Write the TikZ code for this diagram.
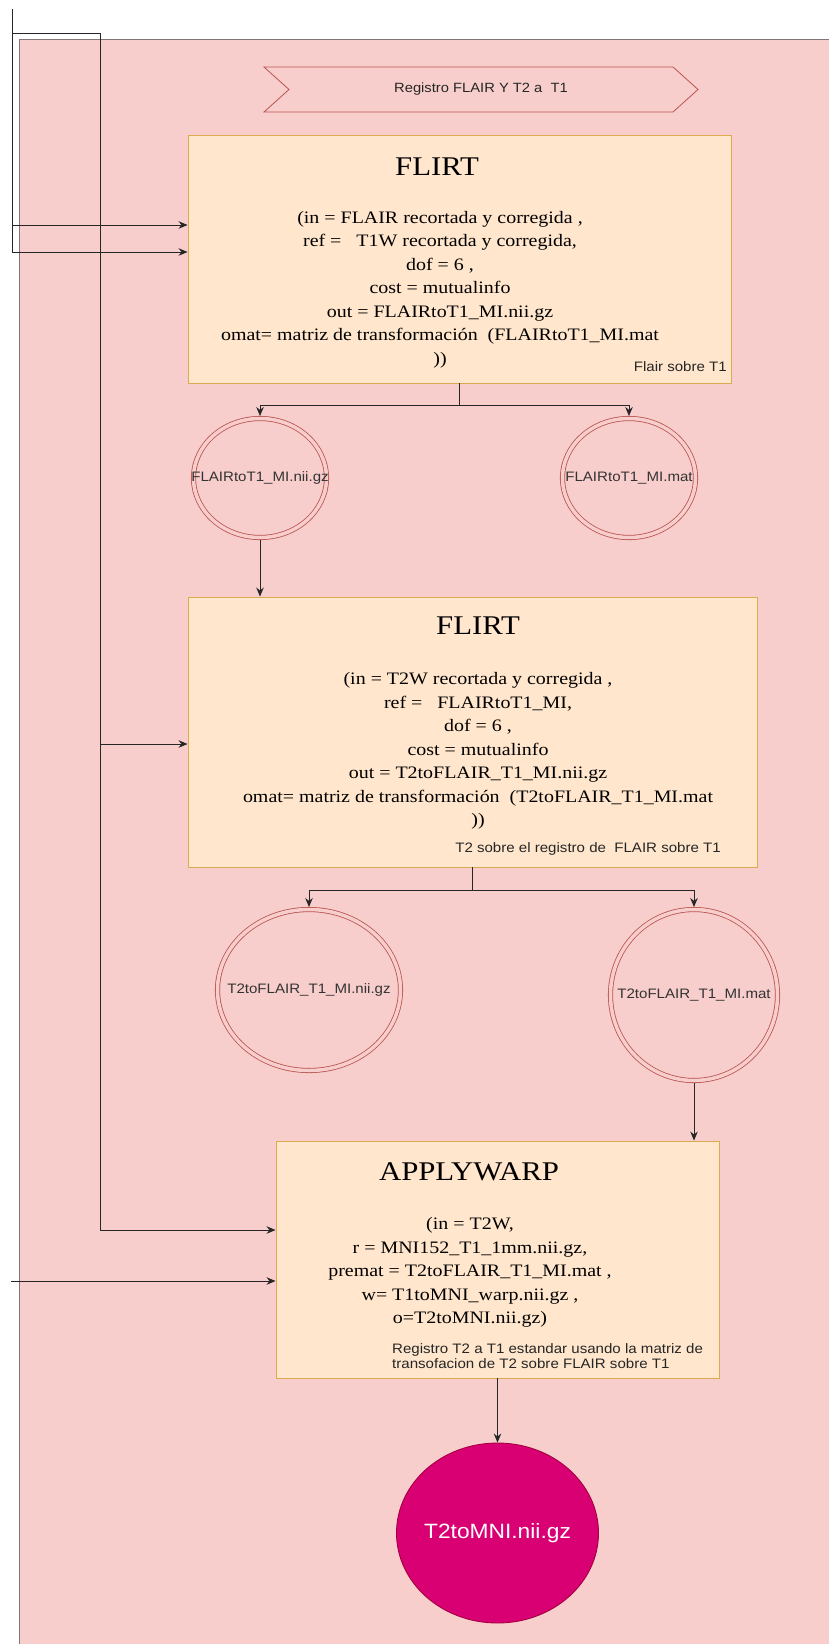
\documentclass[tikz,border=0pt]{standalone}
\usepackage{fontspec}
\setmainfont{Liberation Serif}[FakeStretch=1.14]
\setsansfont{Liberation Sans}[FakeStretch=1.1]
\usepackage{xcolor}
\usepackage{tikz}
\usetikzlibrary{positioning, shapes.geometric, shapes.symbols, arrows.meta}

\definecolor{lanefill}{HTML}{F8CECC}
\definecolor{laneline}{HTML}{B85450}
\definecolor{laneedge}{HTML}{857575}
\definecolor{boxfill}{HTML}{FFE6CC}
\definecolor{boxline}{HTML}{DDAA50}
\definecolor{magfill}{HTML}{D80073}
\definecolor{magline}{HTML}{A50040}

\begin{document}
\begin{tikzpicture}[x=1pt, y=-1pt, >={Stealth[length=9pt, width=7.5pt]},
        proc/.style={rectangle, draw=boxline, fill=boxfill, line width=0.9pt, inner sep=0pt},
        title/.style={font=\fontsize{27}{30}\selectfont, inner sep=0pt},
        body/.style={align=center, font=\fontsize{17.5}{23.5}\selectfont, inner sep=0pt},
        note/.style={align=left, font=\sffamily\fontsize{13.7}{15}\selectfont, inner sep=0pt, text=black!85},
        outfile/.style={ellipse, draw=laneline, line width=0.8pt, double=lanefill, double distance=3.5pt,
                fill=lanefill, inner sep=0pt, outer sep=2.5pt,
                label={[font=\sffamily\fontsize{13.7}{16}\selectfont, text=black!80]center:#1}},
        result/.style={ellipse, draw=magline, fill=magfill, line width=0.9pt, inner sep=0pt,
                label={[font=\sffamily\fontsize{20.7}{22}\selectfont, text=white]center:#1}},
        banner/.style={signal, signal from=west, signal to=east, signal pointer angle=84,
                draw=laneline, fill=lanefill, line width=0.8pt, inner sep=0pt,
                font=\sffamily\fontsize{13.4}{16}\selectfont, text=black!85},
        wire/.style={line width=0.9pt, draw=black!85}]

        \useasboundingbox[fill=white] (0,0) rectangle (829,1644);
        % swimlane
        \filldraw[fill=lanefill, draw=laneedge, line width=0.8pt] (19,39) rectangle (880,1700);

        \node[banner, minimum width=434pt, minimum height=45pt] (step0) at (481,89.5) {Registro FLAIR Y T2 a \ T1};

        % first flirt
        \node[proc, minimum width=543pt, minimum height=248pt] (flirtA) at (459.5,259) {};
        \node[title] (flirtAtitle) at (437,167) {FLIRT};
        \node[body] (flirtAbody) at (440,289.5) {(in = FLAIR recortada y corregida ,\\
                                                   ref = \ \ T1W recortada y corregida,\\
                                                   dof = 6 ,\\
                                                   cost = mutualinfo\\
                                                   out = FLAIRtoT1\_MI.nii.gz\\
                                                   omat= matriz de transformación \ (FLAIRtoT1\_MI.mat\\
                                                   ))};
        \node[note, anchor=east] (flirtAnote) at (727,367) {Flair sobre T1};

        \node[outfile=FLAIRtoT1\_MI.nii.gz, minimum width=133pt, minimum height=119pt] (fileA) at (260,478) {};
        \node[outfile=FLAIRtoT1\_MI.mat, minimum width=133pt, minimum height=119pt] (fileB) at (629,478) {};

        % second flirt
        \node[proc, minimum width=569pt, minimum height=270pt] (flirtB) at (472.5,732) {};
        \node[title] (flirtBtitle) at (478,626) {FLIRT};
        \node[body] (flirtBbody) at (478,751) {(in = T2W recortada y corregida ,\\
                                                 ref = \ \ FLAIRtoT1\_MI,\\
                                                 dof = 6 ,\\
                                                 cost = mutualinfo\\
                                                 out = T2toFLAIR\_T1\_MI.nii.gz\\
                                                 omat= matriz de transformación \ (T2toFLAIR\_T1\_MI.mat\\
                                                 ))};
        \node[note, anchor=east] (flirtBnote) at (721,849) {T2 sobre el registro de \ FLAIR sobre T1};

        \node[outfile=T2toFLAIR\_T1\_MI.nii.gz, minimum width=183pt, minimum height=161pt] (fileC) at (309,990) {};
        \node[outfile=T2toFLAIR\_T1\_MI.mat, minimum width=167pt, minimum height=171pt] (fileD) at (694,995) {};

        % applywarp
        \node[proc, minimum width=443pt, minimum height=237pt] (warp) at (497.5,1259.5) {};
        \node[title] (warptitle) at (469,1172) {APPLYWARP};
        \node[body] (warpbody) at (470,1272.5) {(in = T2W,\\
                                                  r = MNI152\_T1\_1mm.nii.gz,\\
                                                  premat = T2toFLAIR\_T1\_MI.mat ,\\
                                                  w= T1toMNI\_warp.nii.gz ,\\
                                                  o=T2toMNI.nii.gz)};
        \node[note, anchor=west] (warpnote) at (392,1356.5) {Registro T2 a T1 estandar usando la matriz de\\
                                                              transofacion de T2 sobre FLAIR sobre T1};

        \node[result=T2toMNI.nii.gz, minimum width=202pt, minimum height=180pt] (t2mni) at (497.5,1533) {};

        % inputs from outside
        \coordinate (srcA) at (12,9);
        \coordinate (bendA) at (12,252);
        \coordinate (srcB) at (12,225);
        \coordinate (srcC) at (12,33);
        \coordinate (busB) at (100,744);
        \coordinate (busW) at (100,1230);
        \coordinate (srcD) at (11,1281);

        \draw[wire, ->] (srcA) -- (bendA) -- (bendA -| flirtA.west);
        \draw[wire, ->] (srcB) -- (srcB -| flirtA.west);
        \draw[wire, ->] (srcC) -| (busB) -- (busB -| flirtB.west);
        \draw[wire, ->] (busB) -- (busW) -- (busW -| warp.west);
        \draw[wire, ->] (srcD) -- (srcD -| warp.west);

        % outputs
        \draw[wire, ->] (flirtA.south) -- ++(0,22) -| (fileA.north);
        \draw[wire, ->] (flirtA.south) -- ++(0,22) -| (fileB.north);
        \draw[wire, ->] (fileA.south) -- (fileA.south |- flirtB.north);
        \draw[wire, ->] (flirtB.south) -- ++(0,23) -| (fileC.north);
        \draw[wire, ->] (flirtB.south) -- ++(0,23) -| (fileD.north);
        \draw[wire, ->] (fileD.south) -- (fileD.south |- warp.north);
        \draw[wire, ->] (warp.south) -- (t2mni.north);

\end{tikzpicture}
\end{document}
